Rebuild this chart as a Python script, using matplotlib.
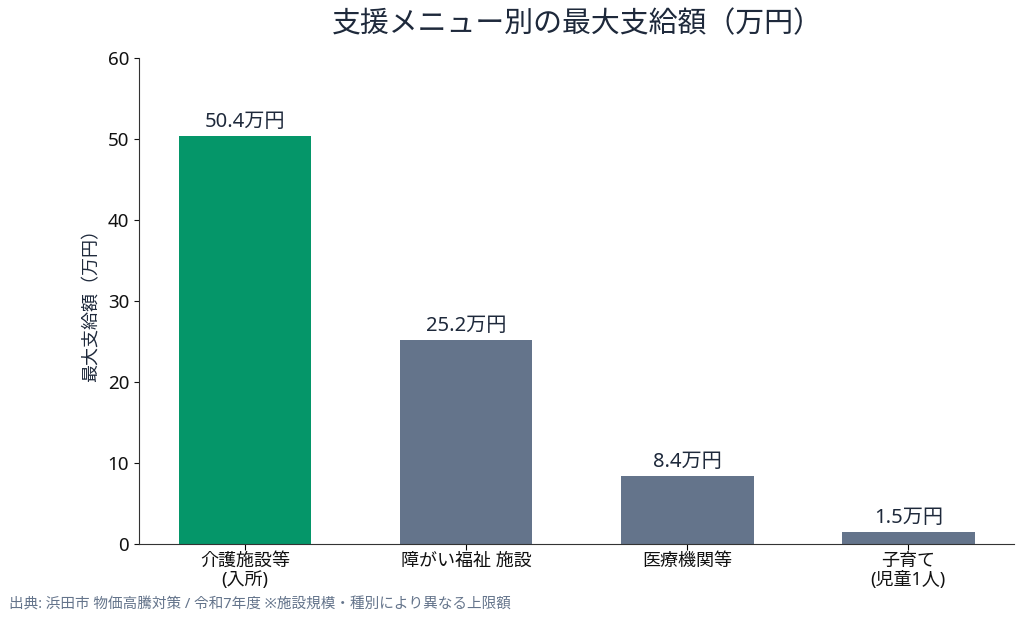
import matplotlib
matplotlib.use("Agg")
import matplotlib.pyplot as plt

plt.rcParams['font.family'] = ['Noto Sans', 'Noto Sans CJK JP', 'DejaVu Sans']

categories = ["介護施設等\n(入所)", "障がい福祉 施設", "医療機関等", "子育て\n(児童1人)"]
values = [50.4, 25.2, 8.4, 1.5]
bar_colors = ["#059669", "#64748b", "#64748b", "#64748b"]
value_labels = ["50.4万円", "25.2万円", "8.4万円", "1.5万円"]

navy = "#1e293b"

fig = plt.figure(figsize=(10.24, 6.2), dpi=100)
ax = fig.add_axes([0.1357, 0.1226, 0.855, 0.7835])

x = range(len(categories))
bars = ax.bar(x, values, width=0.6, color=bar_colors)
for b, lab in zip(bars, value_labels):
    ax.text(b.get_x() + b.get_width() / 2, b.get_height() + 0.5, lab,
            ha="center", va="bottom", fontsize=14.5, color=navy)

ax.set_xlim(-0.48, 3.48)
ax.set_ylim(0, 60)
ax.set_xticks(list(x))
ax.set_xticklabels(categories, fontsize=13, color="#111111", linespacing=1.1)
ax.set_yticks(range(0, 61, 10))
ax.tick_params(axis="y", labelsize=13.5, colors="#111111")
ax.tick_params(axis="x", length=4, pad=1.5)
ax.spines["top"].set_visible(False)
ax.spines["right"].set_visible(False)
ax.spines["left"].set_color("#333333")
ax.spines["bottom"].set_color("#333333")
ax.set_ylabel("最大支給額（万円）", fontsize=13, color=navy, labelpad=5)

fig.text(0.564, 0.96, "支援メニュー別の最大支給額（万円）", ha="center", va="center",
         fontsize=20.8, color=navy)
fig.text(0.009, 0.024, "出典: 浜田市 物価高騰対策 / 令和7年度 ※施設規模・種別により異なる上限額",
         ha="left", va="center", fontsize=10.5, color="#64748b")

fig.savefig("out.png", dpi=100)
